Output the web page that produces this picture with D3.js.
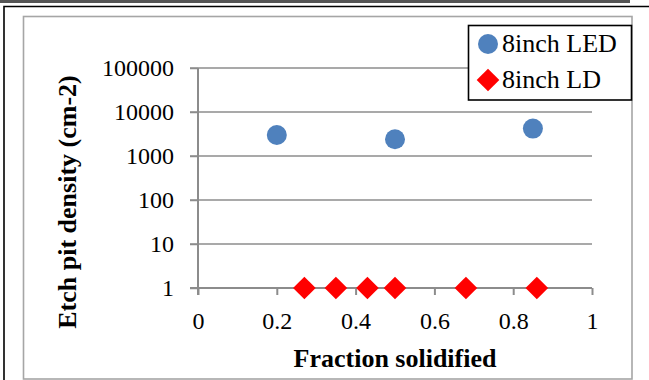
<!DOCTYPE html>
<html><head><meta charset="utf-8">
<script src="https://cdn.jsdelivr.net/npm/d3@7"></script>
<style>body{margin:0;background:#fff}svg{display:block}text{font-family:"Liberation Serif","Times New Roman",Times,serif}</style>
</head><body>
<svg id="c" width="649" height="380"></svg>
<script>
const xTicks = [0, 0.2, 0.4, 0.6, 0.8, 1];
const yTicks = [1, 10, 100, 1000, 10000, 100000];
const ledX = [0.2, 0.5, 0.85];
const ledY = [3000, 2400, 4200];
const ldX = [0.27, 0.35, 0.43, 0.5, 0.68, 0.86];
const ldY = [1, 1, 1, 1, 1, 1];
const seriesNames = ["8inch LED", "8inch LD"];
const xTitle = "Fraction solidified";
const yTitle = "Etch pit density (cm-2)";

const svg = d3.select("#c");
// frames
svg.append("rect").attr("x",0).attr("y",0).attr("width",630).attr("height",3).attr("fill","#555");
svg.append("path").attr("d","M4,381 V6.5 H650").attr("fill","none").attr("stroke","#000").attr("stroke-width",1.6);
svg.append("rect").attr("x",23.5).attr("y",16.5).attr("width",608.5).attr("height",362.5)
  .attr("fill","none").attr("stroke","#a6a6a6").attr("stroke-width",1.6);

const x = d3.scaleLinear().domain([0,1]).range([198,592]);
const y = d3.scaleLog().domain([1,100000]).range([288,68]);
const g = svg.append("g");
// gridlines
g.selectAll("line.grid").data(yTicks.slice(1)).join("line")
  .attr("x1",190).attr("x2",592).attr("y1",d=>y(d)).attr("y2",d=>y(d))
  .attr("stroke","#8c8c8c").attr("stroke-width",1.5);
// x axis
const xAxis = d3.axisBottom(x).tickValues(xTicks).tickSize(7).tickFormat(d3.format("~g"));
const xa = g.append("g").attr("transform","translate(0,288)").call(xAxis);
xa.attr("font-family",null).attr("font-size",null);
xa.select(".domain").attr("stroke","#8c8c8c").attr("stroke-width",2).attr("d","M190,0H592");
xa.selectAll(".tick line").attr("stroke","#8c8c8c").attr("stroke-width",2);
xa.selectAll(".tick text").attr("font-size",24).attr("fill","#000").attr("dy",null).attr("y",41);
// y axis
const yAxis = d3.axisLeft(y).tickValues(yTicks).tickSize(0).tickFormat(d3.format("d"));
const ya = g.append("g").attr("transform","translate(198,0)").call(yAxis);
ya.attr("font-family",null).attr("font-size",null);
ya.select(".domain").attr("stroke","#8c8c8c").attr("stroke-width",2).attr("d","M0,68V295");
ya.selectAll(".tick text").attr("font-size",24).attr("fill","#000").attr("x",-24).attr("dy","0.33em");
ya.selectAll(".tick").append("line").attr("x1",-8).attr("x2",0).attr("stroke","#8c8c8c").attr("stroke-width",1.5);

// points
g.selectAll("circle.led").data(ledX.map((v,i)=>[v,ledY[i]])).join("circle")
  .attr("cx",d=>x(d[0])).attr("cy",d=>y(d[1])).attr("r",10).attr("fill","#4f81bd");
const dia = d3.symbol().type(d3.symbolSquare).size(16*16);
g.selectAll("path.ld").data(ldX.map((v,i)=>[v,ldY[i]])).join("path")
  .attr("d",dia).attr("transform",d=>`translate(${x(d[0])},${y(d[1])}) rotate(45)`).attr("fill","#ff0000");

// titles
svg.append("text").attr("x",395).attr("y",367).attr("text-anchor","middle")
  .attr("font-size",26).attr("font-weight","bold").text(xTitle);
svg.append("text").attr("transform","translate(76,202) rotate(-90)").attr("text-anchor","middle")
  .attr("font-size",26).attr("font-weight","bold").text(yTitle);

// legend
const lg = svg.append("g");
lg.append("rect").attr("x",468.5).attr("y",25.5).attr("width",163).attr("height",74.5)
  .attr("fill","#fff").attr("stroke","#000").attr("stroke-width",1.6);
lg.append("circle").attr("cx",488).attr("cy",44).attr("r",10).attr("fill","#4f81bd");
lg.append("path").attr("d",dia).attr("transform","translate(488,80) rotate(45)").attr("fill","#ff0000");
lg.selectAll("text").data(seriesNames).join("text")
  .attr("x",502).attr("y",(d,i)=>52+i*36).attr("font-size",26).text(d=>d);
</script>
</body></html>
